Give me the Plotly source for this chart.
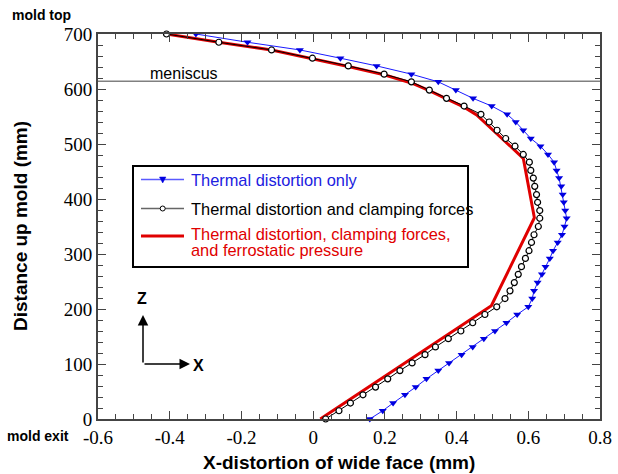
import plotly.graph_objects as go

# Distance up mold (mm) for the node positions of the two marked series
distance_mm = [0, 15, 29, 44, 58, 73, 88, 102, 117, 131, 146, 160, 175, 190, 204,
               219, 233, 248, 263, 277, 292, 306, 321, 335, 350, 365, 379, 394, 408,
               423, 438, 452, 467, 481, 496, 510, 525, 540, 554, 569, 583, 598, 613,
               627, 642, 656, 671, 685, 700]

thermal_only = [0.158, 0.194, 0.223, 0.256, 0.286, 0.316, 0.349, 0.379, 0.414, 0.445,
                0.476, 0.507, 0.539, 0.569, 0.600, 0.611, 0.616, 0.626, 0.638, 0.648,
                0.660, 0.669, 0.682, 0.694, 0.701, 0.707, 0.703, 0.699, 0.696, 0.692,
                0.686, 0.679, 0.672, 0.655, 0.634, 0.607, 0.586, 0.565, 0.541, 0.498,
                0.446, 0.398, 0.349, 0.274, 0.177, 0.076, -0.037, -0.183, -0.327]

thermal_clamping = [0.035, 0.072, 0.104, 0.139, 0.174, 0.208, 0.242, 0.276, 0.312, 0.341,
                    0.377, 0.412, 0.445, 0.479, 0.512, 0.535, 0.549, 0.561, 0.572, 0.581,
                    0.592, 0.602, 0.609, 0.616, 0.628, 0.632, 0.632, 0.626, 0.623, 0.618,
                    0.614, 0.607, 0.603, 0.586, 0.563, 0.537, 0.513, 0.491, 0.468, 0.421,
                    0.372, 0.324, 0.274, 0.198, 0.098, -0.002, -0.116, -0.263, -0.409]

# Full-load curve (polyline without markers)
ferro_x = [0.020, 0.497, 0.617, 0.586, 0.456, 0.421, 0.372, 0.324, 0.274, 0.198,
           0.098, -0.002, -0.116, -0.263, -0.409]
ferro_y = [0, 206, 366, 474, 553, 567, 582, 597, 611, 626, 641, 655, 671, 685, 700]

meniscus_mm = 614

series_names = ["Thermal distortion only",
                "Thermal distortion and clamping forces",
                "Thermal distortion, clamping forces,",
                "and ferrostatic pressure"]

x_tickvals = [-0.6, -0.4, -0.2, 0, 0.2, 0.4, 0.6, 0.8]
x_ticktext = ["-0.6", "-0.4", "-0.2", "0", "0.2", "0.4", "0.6", "0.8"]
y_tickvals = [0, 100, 200, 300, 400, 500, 600, 700]
y_ticktext = ["0", "100", "200", "300", "400", "500", "600", "700"]

SANS = "Liberation Sans"
SERIF = "Liberation Serif"
BLUE = "#1a1aff"
BLUE_TXT = "#2020e0"
RED = "#e00000"

W, H = 618, 474
ML, MR, MT, MB = 98, 18, 34, 55
pw, ph = W - ML - MR, H - MT - MB


def px(x):
    return (x - ML) / pw


def py(y):
    return 1 - (y - MT) / ph


fig = go.Figure()

fig.add_trace(go.Scatter(
    x=ferro_x, y=ferro_y, mode="lines",
    line=dict(color=RED, width=3),
    name=series_names[2] + " " + series_names[3], showlegend=False, cliponaxis=False))

fig.add_trace(go.Scatter(
    x=thermal_clamping, y=distance_mm, mode="lines+markers",
    line=dict(color="black", width=1),
    marker=dict(symbol="circle", size=6, color="white", line=dict(color="black", width=1.2)),
    name=series_names[1], showlegend=False, cliponaxis=False))

fig.add_trace(go.Scatter(
    x=thermal_only, y=distance_mm, mode="lines+markers",
    line=dict(color=BLUE, width=1),
    marker=dict(symbol="triangle-down", size=7, color="#0000e0"),
    name=series_names[0], showlegend=False, cliponaxis=False))

axis_common = dict(
    ticks="inside", ticklen=8, tickwidth=1, tickcolor="#444",
    showline=True, linecolor="#444", linewidth=2, mirror="allticks",
    showgrid=False, zeroline=False, automargin=False,
    tickfont=dict(family=SERIF, size=19, color="black"),
)

fig.update_xaxes(range=[-0.6, 0.8], tickvals=x_tickvals, ticktext=x_ticktext,
                 minor=dict(ticks="inside", ticklen=5, tickwidth=1, tickcolor="#444", dtick=0.05,
                            tick0=0, showgrid=False),
                 **axis_common)
fig.update_yaxes(range=[0, 700], tickvals=y_tickvals, ticktext=y_ticktext,
                 minor=dict(ticks="inside", ticklen=5, tickwidth=1, tickcolor="#444", dtick=20,
                            tick0=0, showgrid=False),
                 **axis_common)

shapes = []
# meniscus line
shapes.append(dict(type="line", xref="paper", x0=0, x1=1, yref="y", y0=meniscus_mm, y1=meniscus_mm,
                   line=dict(color="#808080", width=1.5), layer="below"))

# legend box (manual)
shapes.append(dict(type="rect", xref="paper", yref="paper", x0=px(133), x1=px(468),
                   y0=py(267), y1=py(166), line=dict(color="black", width=2),
                   fillcolor="white", layer="above"))
leg_y = [179.5, 208.5, 236]
shapes.append(dict(type="line", xref="paper", yref="paper", x0=px(141), x1=px(184),
                   y0=py(leg_y[0]), y1=py(leg_y[0]), line=dict(color="#5a5aff", width=1.5), layer="above"))
shapes.append(dict(type="line", xref="paper", yref="paper", x0=px(141), x1=px(184),
                   y0=py(leg_y[1]), y1=py(leg_y[1]), line=dict(color="#666666", width=1.5), layer="above"))
shapes.append(dict(type="line", xref="paper", yref="paper", x0=px(141), x1=px(184),
                   y0=py(leg_y[2]), y1=py(leg_y[2]), line=dict(color=RED, width=3), layer="above"))
# legend glyph: small down triangle
tx, ty = 162.7, leg_y[0]
shapes.append(dict(type="path", xref="paper", yref="paper", layer="above",
                   path="M {a},{b} L {c},{b} L {d},{e} Z".format(
                       a=px(tx - 3.2), b=py(ty - 2.5), c=px(tx + 3.2), d=px(tx), e=py(ty + 3.5)),
                   fillcolor="#0000e0", line=dict(color="#0000e0", width=0.5)))
# legend glyph: small circle
cx, cy = 162.7, leg_y[1]
shapes.append(dict(type="circle", xref="paper", yref="paper", layer="above",
                   x0=px(cx - 2.5), x1=px(cx + 2.5), y0=py(cy + 2.5), y1=py(cy - 2.5),
                   fillcolor="white", line=dict(color="black", width=1)))

annotations = []


def text_ann(text, x, y, size, color="black", xanchor="center", bold=False, angle=0, family=SANS):
    annotations.append(dict(
        text="<b>" + text + "</b>" if bold else text,
        x=px(x), y=py(y), xref="paper", yref="paper", xanchor=xanchor, yanchor="middle",
        showarrow=False, textangle=angle,
        font=dict(family=family, size=size, color=color)))


# legend texts
text_ann(series_names[0], 189, 179.5, 16.4, BLUE_TXT, xanchor="left")
text_ann(series_names[1], 189, 209, 16.4, "black", xanchor="left")
text_ann(series_names[2], 189, 234, 16.4, RED, xanchor="left")
text_ann(series_names[3], 189, 250, 16.4, RED, xanchor="left")

# labels
text_ann("meniscus", 184, 73.5, 16)
text_ann("mold top", 41, 15, 14, bold=True)
text_ann("mold exit", 38, 436, 14, bold=True)
text_ann("X-distortion of wide face (mm)", 339, 462, 19, bold=True)
text_ann("Distance up mold (mm)", 21, 226, 19, bold=True, angle=-90)
text_ann("Z", 142, 298, 16, bold=True)
text_ann("X", 198, 365, 16, bold=True)


# Z / X direction arrows (pixel positions -> data coords)
def dx(x):
    return -0.6 + (x - ML) / pw * 1.4


def dy(y):
    return (H - MB - y) / ph * 700


annotations.append(dict(text="", x=dx(143), y=dy(315), xref="x", yref="y",
                        ax=dx(143), ay=dy(364), axref="x", ayref="y",
                        showarrow=True, arrowhead=2, arrowsize=1.4, arrowwidth=1.5, arrowcolor="black"))
annotations.append(dict(text="", x=dx(190), y=dy(364), xref="x", yref="y",
                        ax=dx(143), ay=dy(364), axref="x", ayref="y",
                        showarrow=True, arrowhead=2, arrowsize=1.4, arrowwidth=1.5, arrowcolor="black"))

fig.update_layout(
    width=W, height=H,
    margin=dict(l=ML, r=MR, t=MT, b=MB, autoexpand=False),
    plot_bgcolor="white", paper_bgcolor="white",
    shapes=shapes, annotations=annotations,
    showlegend=False,
)

fig.write_html("out.html")
